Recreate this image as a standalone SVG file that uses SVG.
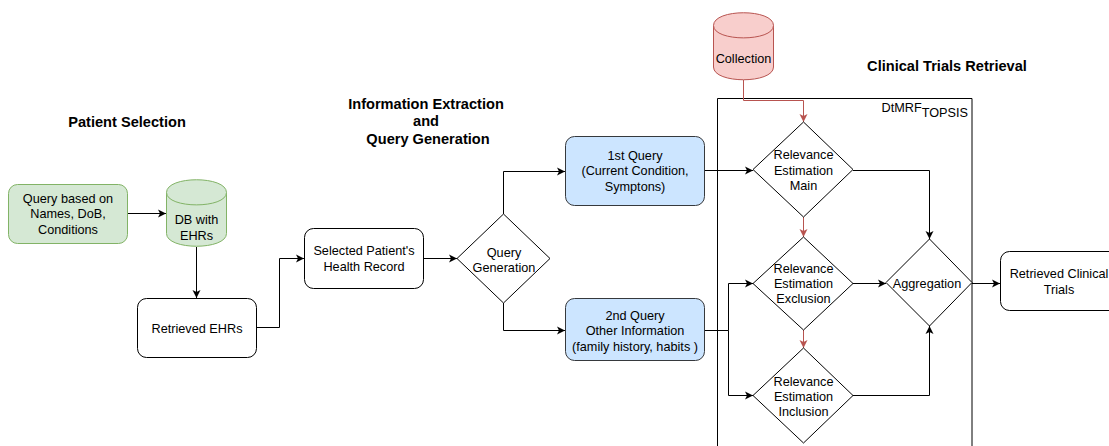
<svg xmlns="http://www.w3.org/2000/svg" width="1109" height="446" viewBox="0 0 1109 446">
  <style>
    text { font-family: "Liberation Sans", Arial, sans-serif; font-size: 12.7px; fill: #000; text-anchor: middle; }
    .title { font-weight: bold; font-size: 14.6px; }
    .box { fill: #fff; stroke: #000; stroke-width: 1; }
    .green { fill: #d5e8d4; stroke: #82b366; stroke-width: 1; }
    .blue { fill: #cce5ff; stroke: #36393d; stroke-width: 1; }
    .red { fill: #f8cecc; stroke: #b85450; stroke-width: 1; }
    .edge { fill: none; stroke: #000; stroke-width: 1; }
    .edge-red { fill: none; stroke: #b85450; stroke-width: 1; }
  </style>
  <defs>
    <marker id="arr" viewBox="0 0 8 9" refX="8" refY="4.5" markerWidth="8" markerHeight="9" orient="auto" markerUnits="userSpaceOnUse">
      <path d="M0,0.5 L8,4.5 L0,8.5 L2,4.5 Z" fill="#000"/>
    </marker>
    <marker id="arr-red" viewBox="0 0 8 9" refX="8" refY="4.5" markerWidth="8" markerHeight="9" orient="auto" markerUnits="userSpaceOnUse">
      <path d="M0,0.5 L8,4.5 L0,8.5 L2,4.5 Z" fill="#b85450"/>
    </marker>
  </defs>

  <rect width="1109" height="446" fill="#fff"/>

  <!-- section titles -->
  <g id="titles">
    <text class="title" x="127" y="127">Patient Selection</text>
    <text class="title" x="426" y="109">Information Extraction</text>
    <text class="title" x="426" y="126">and</text>
    <text class="title" x="428" y="144">Query Generation</text>
    <text class="title" x="947" y="71">Clinical Trials Retrieval</text>
  </g>

  <!-- DtMRF container -->
  <g id="dtmrf">
    <path d="M717.5,446 V98.5 H972 V446" fill="none" stroke="#000" stroke-width="1"/>
    <text x="968" y="112" style="text-anchor:end">DtMRF<tspan dy="5">TOPSIS</tspan></text>
  </g>

  <!-- connectors -->
  <g id="connectors">
    <path class="edge" d="M127,213.5 H166" marker-end="url(#arr)"/>
    <path class="edge" d="M196.5,247 V298" marker-end="url(#arr)"/>
    <path class="edge" d="M256,327.5 H279.5 V258.5 H304" marker-end="url(#arr)"/>
    <path class="edge" d="M423,258.5 H457" marker-end="url(#arr)"/>
    <path class="edge" d="M503.5,214 V171.5 H565" marker-end="url(#arr)"/>
    <path class="edge" d="M503.5,303 V330.5 H565" marker-end="url(#arr)"/>
    <path class="edge" d="M704,170.5 H753" marker-end="url(#arr)"/>
    <path class="edge" d="M704,330.5 H728.5 V283.5 H753" marker-end="url(#arr)"/>
    <path class="edge" d="M728.5,330.5 V395.5 H753" marker-end="url(#arr)"/>
    <path class="edge-red" d="M743.5,80 V100.5 H803.5 V122" marker-end="url(#arr-red)"/>
    <path class="edge-red" d="M803.5,217 V237" marker-end="url(#arr-red)"/>
    <path class="edge-red" d="M803.5,330 V348" marker-end="url(#arr-red)"/>
    <path class="edge" d="M853,170.5 H929.5 V239" marker-end="url(#arr)"/>
    <path class="edge" d="M853,283.5 H886" marker-end="url(#arr)"/>
    <path class="edge" d="M853,395.5 H929.5 V326" marker-end="url(#arr)"/>
    <path class="edge" d="M972,283.5 H1000" marker-end="url(#arr)"/>
  </g>

  <!-- patient selection -->
  <g id="query-names">
    <rect class="green" x="8.5" y="184.5" width="119" height="59" rx="9"/>
    <text x="68" y="202.5">Query based on</text>
    <text x="68" y="218">Names, DoB,</text>
    <text x="68" y="233.5">Conditions</text>
  </g>

  <g id="db-ehrs">
    <path class="green" d="M166.5,192.5 C166.5,175.5 226.5,175.5 226.5,192.5 V233.5 C226.5,250.5 166.5,250.5 166.5,233.5 Z"/>
    <path class="green" d="M166.5,192.5 C166.5,209 226.5,209 226.5,192.5" fill="none"/>
    <text x="196.5" y="224">DB with</text>
    <text x="196.5" y="240">EHRs</text>
  </g>

  <g id="retrieved-ehrs">
    <rect class="box" x="137.5" y="298.5" width="119" height="59" rx="9"/>
    <text x="197" y="332.5">Retrieved EHRs</text>
  </g>

  <!-- information extraction -->
  <g id="selected-record">
    <rect class="box" x="304.5" y="228.5" width="119" height="60" rx="9"/>
    <text x="364" y="255">Selected Patient's</text>
    <text x="364" y="270.5">Health Record</text>
  </g>

  <g id="query-generation">
    <path class="box" d="M503.5,214 L550,258.5 L503.5,303 L457,258.5 Z"/>
    <text x="504" y="256.5">Query</text>
    <text x="504" y="271.5">Generation</text>
  </g>

  <g id="first-query">
    <rect class="blue" x="565.5" y="136.5" width="139" height="69" rx="9"/>
    <text x="635" y="159.5">1st Query</text>
    <text x="635" y="175">(Current Condition,</text>
    <text x="635" y="190.5">Symptons)</text>
  </g>

  <g id="second-query">
    <rect class="blue" x="565.5" y="298.5" width="139" height="62" rx="9"/>
    <text x="635" y="319.5">2nd Query</text>
    <text x="635" y="335">Other Information</text>
    <text x="635" y="350.5">(family history, habits )</text>
  </g>

  <!-- clinical trials retrieval -->
  <g id="collection">
    <path class="red" d="M713.5,25.5 C713.5,8.5 773.5,8.5 773.5,25.5 V67 C773.5,84 713.5,84 713.5,67 Z"/>
    <path class="red" d="M713.5,25.5 C713.5,42 773.5,42 773.5,25.5" fill="none"/>
    <text x="743.5" y="62.5">Collection</text>
  </g>

  <g id="relevance-main">
    <path class="box" d="M803.5,122 L853,169.5 L803.5,217 L753,169.5 Z"/>
    <text x="803.5" y="159">Relevance</text>
    <text x="803.5" y="174.5">Estimation</text>
    <text x="803.5" y="190">Main</text>
  </g>

  <g id="relevance-exclusion">
    <path class="box" d="M803.5,237 L853,283.5 L803.5,330 L753,283.5 Z"/>
    <text x="803.5" y="272.5">Relevance</text>
    <text x="803.5" y="287.5">Estimation</text>
    <text x="803.5" y="303">Exclusion</text>
  </g>

  <g id="relevance-inclusion">
    <path class="box" d="M803.5,348 L853,395.5 L803.5,443 L753,395.5 Z"/>
    <text x="803.5" y="385.5">Relevance</text>
    <text x="803.5" y="400.5">Estimation</text>
    <text x="803.5" y="415.5">Inclusion</text>
  </g>

  <g id="aggregation">
    <path class="box" d="M929.5,239 L972,282.5 L929.5,326 L886,282.5 Z"/>
    <text x="927" y="287.5">Aggregation</text>
  </g>

  <g id="retrieved-trials">
    <rect class="box" x="1000.5" y="251.5" width="120" height="59" rx="9"/>
    <text x="1059" y="277.5">Retrieved Clinical</text>
    <text x="1059" y="293.5">Trials</text>
  </g>
</svg>
